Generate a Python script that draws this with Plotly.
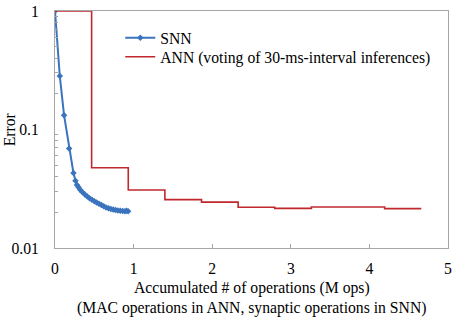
import plotly.graph_objects as go

snn_x = [0, 0.061, 0.115, 0.18, 0.235, 0.26, 0.28, 0.30, 0.32, 0.35, 0.38, 0.41, 0.44, 0.47,
         0.50, 0.53, 0.56, 0.59, 0.62, 0.65, 0.68, 0.71, 0.74, 0.77, 0.80, 0.83, 0.86, 0.89, 0.91, 0.93]
snn_y = [1.0, 0.283, 0.132, 0.069, 0.043, 0.037, 0.034, 0.0325, 0.031, 0.0295, 0.0283, 0.0272, 0.0263, 0.0255,
         0.0248, 0.0242, 0.0236, 0.0231, 0.0225, 0.0220, 0.0216, 0.0213, 0.0211, 0.0209, 0.0207, 0.0206,
         0.0205, 0.0204, 0.0206, 0.0204]

ann_x = [0, 0.466, 0.932, 1.398, 1.864, 2.33, 2.796, 3.262, 3.728, 4.194, 4.66]
ann_y = [1.0, 0.0476, 0.0309, 0.0256, 0.0244, 0.0221, 0.0216, 0.0222, 0.0222, 0.0215, 0.0215]

x_ticks = [0, 1, 2, 3, 4, 5]
y_ticks = [0.01, 0.1, 1]
y_tick_labels = ["0.01", "0.1", "1"]
y_minor = [0.02, 0.03, 0.04, 0.05, 0.06, 0.07, 0.08, 0.09, 0.2, 0.3, 0.4, 0.5, 0.6, 0.7, 0.8, 0.9]

FONT = "Liberation Serif"
FS = 15.7
AXC = "#a6a6a6"

fig = go.Figure()
fig.add_trace(go.Scatter(x=snn_x, y=snn_y, mode="lines+markers", name="SNN", legend="legend",
                         line=dict(color="#3b74be", width=2),
                         marker=dict(symbol="diamond", size=5, color="#3b74be")))
fig.add_trace(go.Scatter(x=ann_x, y=ann_y, mode="lines", name="ANN (voting of 30-ms-interval inferences)",
                         legend="legend2",
                         line=dict(color="#c0282e", width=1.6, shape="hv")))

leg_common = dict(xanchor="left", yanchor="middle", bgcolor="rgba(0,0,0,0)",
                  font=dict(family=FONT, size=FS), itemwidth=30)

fig.update_layout(
    width=454, height=320,
    margin=dict(l=55, r=6, t=11, b=72),
    paper_bgcolor="white", plot_bgcolor="white",
    font=dict(family=FONT, size=FS, color="black"),
    showlegend=True,
    legend=dict(x=0.166, y=0.886, **leg_common),
    legend2=dict(x=0.166, y=0.806, **leg_common),
    xaxis=dict(range=[0, 5], tickvals=x_ticks, showgrid=False, zeroline=False, automargin=False,
               showline=True, linecolor=AXC, linewidth=1, mirror=True,
               ticks="inside", ticklen=4, tickcolor=AXC, ticklabelstandoff=6),
    yaxis=dict(type="log", range=[-2, 0], tickvals=y_ticks, ticktext=y_tick_labels,
               showgrid=False, zeroline=False, automargin=False,
               showline=True, linecolor=AXC, linewidth=1, mirror=True,
               ticks="", ticklabelstandoff=12,
               minor=dict(tickvals=y_minor, ticks="inside", ticklen=3, tickcolor=AXC, showgrid=False)),
    annotations=[
        dict(text="Accumulated # of operations (M ops)", x=0.5, y=-0.17, xref="paper", yref="paper",
             xanchor="center", yanchor="middle", showarrow=False, font=dict(family=FONT, size=FS)),
        dict(text="(MAC operations in ANN, synaptic operations in SNN)", x=0.5, y=-0.255, xref="paper", yref="paper",
             xanchor="center", yanchor="middle", showarrow=False, font=dict(family=FONT, size=FS)),
        dict(text="Error", x=-0.115, y=0.5, xref="paper", yref="paper", textangle=-90,
             xanchor="center", yanchor="middle", showarrow=False, font=dict(family=FONT, size=FS)),
    ],
)

fig.write_html("out.html", config={"displayModeBar": False},
               post_script="document.body.style.margin='0';")
